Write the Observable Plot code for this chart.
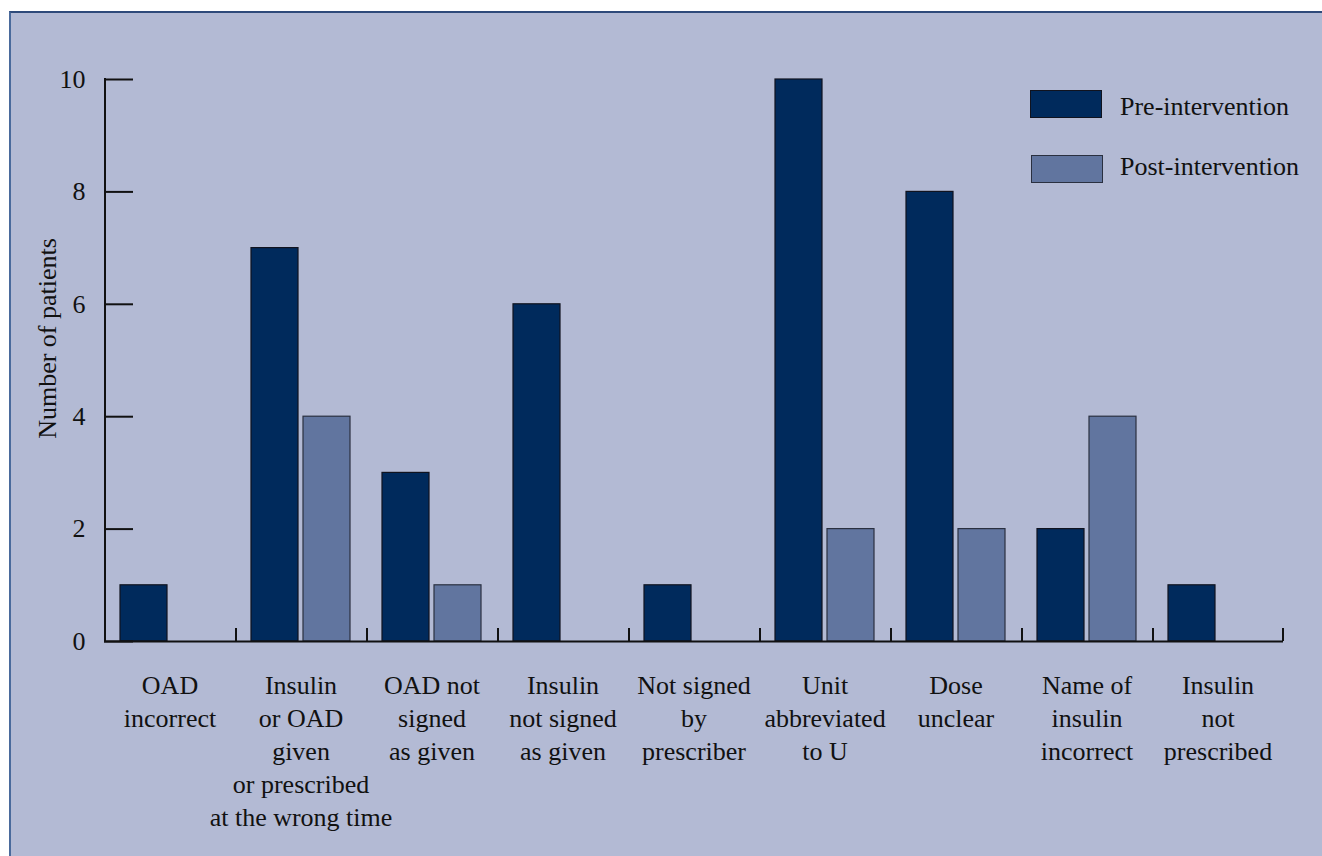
<!DOCTYPE html>
<html>
<head>
<meta charset="utf-8">
<script src="https://cdn.jsdelivr.net/npm/d3@7"></script>
<script src="https://cdn.jsdelivr.net/npm/@observablehq/plot@0.6"></script>
<style>
  html, body { margin: 0; padding: 0; background: #ffffff; }
  #wrap { position: relative; width: 1322px; height: 856px; overflow: hidden; font-family: "Liberation Serif", "DejaVu Serif", serif; }
  #panel { position: absolute; left: 9px; top: 11px; width: 1313px; height: 845px; box-sizing: border-box;
           background: #b3bad4; border-left: 2px solid #4a6a9c; border-top: 2px solid #2e4a7a; }
  #chart { position: absolute; left: 0; top: 0; }
  .lg-box { position: absolute; width: 72px; height: 28px; box-sizing: border-box; }
  .lg-text { position: absolute; font-size: 26px; line-height: 1; color: #111; white-space: nowrap; }
</style>
</head>
<body>
<div id="wrap">
  <div id="panel"></div>
  <div id="chart"></div>
  <div class="lg-box" style="left:1030px;top:90px;background:#002a5c;border:1px solid #10131f;"></div>
  <div class="lg-text" style="left:1120px;top:94px;">Pre-intervention</div>
  <div class="lg-box" style="left:1031px;top:155px;background:#61759f;border:1px solid #2a3040;"></div>
  <div class="lg-text" style="left:1120px;top:154px;">Post-intervention</div>
</div>
<script>
// ---- data ----
const categories = [
  "OAD incorrect",
  "Insulin or OAD given or prescribed at the wrong time",
  "OAD not signed as given",
  "Insulin not signed as given",
  "Not signed by prescriber",
  "Unit abbreviated to U",
  "Dose unclear",
  "Name of insulin incorrect",
  "Insulin not prescribed"
];
const tickLabels = [
  "OAD\nincorrect",
  "Insulin\nor OAD\ngiven\nor prescribed\nat the wrong time",
  "OAD not\nsigned\nas given",
  "Insulin\nnot signed\nas given",
  "Not signed\nby\nprescriber",
  "Unit\nabbreviated\nto U",
  "Dose\nunclear",
  "Name of\ninsulin\nincorrect",
  "Insulin\nnot\nprescribed"
];
const seriesNames = ["Pre-intervention", "Post-intervention"];
const preValues  = [1, 7, 3, 6, 1, 10, 8, 2, 1];
const postValues = [0, 4, 1, 0, 0, 2, 2, 4, 0];
const yTicks = [0, 2, 4, 6, 8, 10];
const yLabel = "Number of patients";

// ---- table ----
const rows = [];
categories.forEach((c, i) => {
  rows.push({category: c, series: seriesNames[0], value: preValues[i]});
  rows.push({category: c, series: seriesNames[1], value: postValues[i]});
});
const labelOf = new Map(categories.map((c, i) => [c, tickLabels[i]]));

const W = 1322, H = 856;
const mL = 104, mR = 39, mT = 79, mB = 215;
const facetW = (W - mL - mR) / categories.length;   // 131
const frameH = H - mT - mB;                          // 562
const halfOffset = 39; // outer padding + half bandwidth inside a facet

const chart = Plot.plot({
  width: W,
  height: H,
  marginLeft: mL,
  marginRight: mR,
  marginTop: mT,
  marginBottom: mB,
  style: {background: "transparent", fontFamily: "'Liberation Serif', 'DejaVu Serif', serif", fontSize: "26px", color: "#111", overflow: "visible"},
  fx: {domain: categories, padding: 0},
  x: {domain: seriesNames, paddingInner: 0.094, paddingOuter: 0.283, axis: null},
  y: {domain: [0, 10]},
  color: {domain: seriesNames, range: ["#002a5c", "#61759f"]},
  marks: [
    Plot.barY(rows, {
      filter: d => d.value > 0,
      fx: "category", x: "series", y: "value",
      fill: "series",
      stroke: d => d.series === seriesNames[0] ? "#10131f" : "#2a3040",
      strokeWidth: 1.2
    }),
    // x axis baseline
    Plot.ruleY([0], {stroke: "#111", strokeWidth: 2}),
    // category boundary ticks
    Plot.ruleX(categories.slice(1), {fx: d => d, x: () => seriesNames[0], dx: -halfOffset, insetTop: frameH - 13, stroke: "#111", strokeWidth: 2}),
    Plot.ruleX([categories[categories.length - 1]], {fx: d => d, x: () => seriesNames[1], dx: halfOffset, insetTop: frameH - 13, stroke: "#111", strokeWidth: 2}),
    // y axis line
    Plot.ruleX([categories[0]], {fx: d => d, x: () => seriesNames[0], dx: -halfOffset, y1: 0, y2: 10, stroke: "#111", strokeWidth: 2, strokeLinecap: "square"}),
    // y ticks pointing inward
    Plot.ruleY(yTicks, {y: d => d, fx: () => categories[0], insetRight: facetW - 29, stroke: "#111", strokeWidth: 2}),
    Plot.axisY({ticks: yTicks, tickSize: 0, tickPadding: 19, label: null, fontSize: 26}),
    Plot.axisFx({anchor: "bottom", tickSize: 0, tickPadding: 29, label: null, tickFormat: d => labelOf.get(d), lineHeight: 1.27, fontSize: 26}),
    Plot.text([yLabel], {fx: () => categories[0], text: d => d, frameAnchor: "left", textAnchor: "middle", dx: -57, dy: -22, rotate: -90, fontSize: 26, fill: "#111"})
  ]
});
document.getElementById("chart").appendChild(chart);
</script>
</body>
</html>
